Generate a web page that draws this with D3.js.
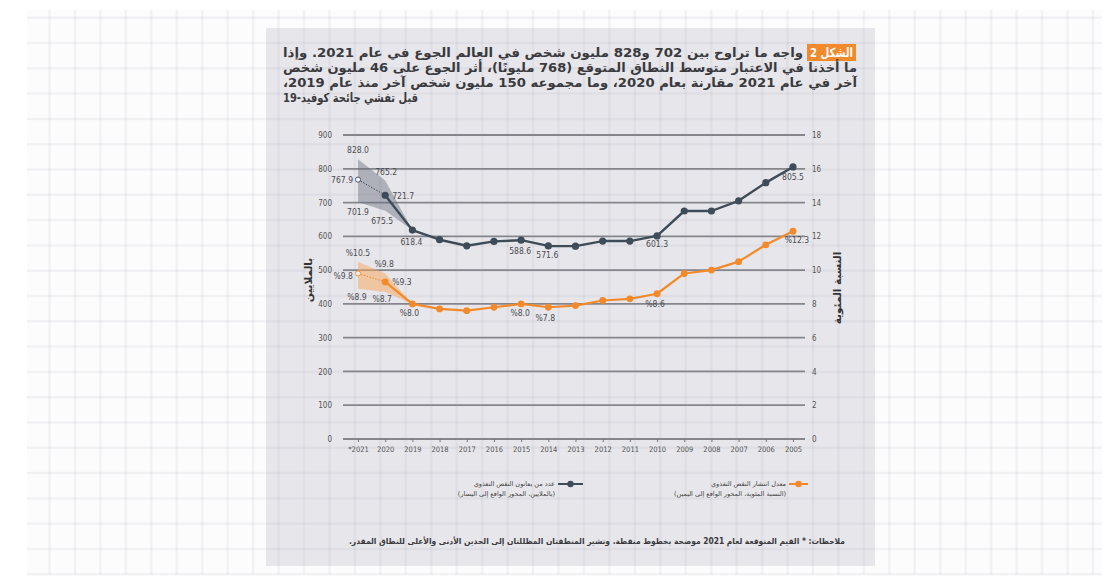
<!DOCTYPE html>
<html><head><meta charset="utf-8">
<script src="https://cdn.jsdelivr.net/npm/d3@7/dist/d3.min.js"></script>
<style>
html,body{margin:0;padding:0;background:#fff;}
svg{display:block;}
</style></head>
<body>
<svg id="c" width="1118" height="580"></svg>
<script>
// ---------------- data ----------------
const years = ["*2021","2020","2019","2018","2017","2016","2015","2014","2013","2012","2011","2010","2009","2008","2007","2006","2005"];
const hungerCount = [767.9,721.7,618.4,590,572,585,588.6,571.6,571,586,586,601.3,675,675,705,759,805.5];
const hungerLow  = [701.9,675.5,618.4];
const hungerHigh = [828.0,765.2,618.4];
const prevalence = [9.8,9.3,8.0,7.7,7.6,7.8,8.0,7.8,7.9,8.2,8.3,8.6,9.8,10.0,10.5,11.5,12.3];
const prevLow  = [8.9,8.7,8.0];
const prevHigh = [10.5,9.8,8.0];
const leftTicks  = [0,100,200,300,400,500,600,700,800,900];
const rightTicks = [0,2,4,6,8,10,12,14,16,18];

const titleBadge = "الشكل 2";
const titleLines = [
  "واجه ما تراوح بين 702 و828 مليون شخص في العالم الجوع في عام 2021. وإذا",
  "ما أخذنا في الاعتبار متوسط النطاق المتوقع (768 مليونًا)، أثر الجوع على 46 مليون شخص",
  "آخر في عام 2021 مقارنة بعام 2020، وما مجموعه 150 مليون شخص آخر منذ عام 2019،",
  "قبل تفشي جائحة كوفيد-19"
];
const leftTitle = "بالملايين";
const rightTitle = "النسبة المئوية";
const legendCount = ["عدد من يعانون النقص التغذوي","(بالملايين، المحور الواقع إلى اليسار)"];
const legendPrev = ["معدل انتشار النقص التغذوي","(النسبة المئوية، المحور الواقع إلى اليمين)"];
const noteText = "ملاحظات: * القيم المتوقعة لعام 2021 موضحة بخطوط منقطة. وتشير المنطقتان المظللتان إلى الحدين الأدنى والأعلى للنطاق المقدر.";

// label layout (index, value, text, dx, dy, anchor)
const countLabels = [
  [0,828.0,"828.0",0,-9,"middle"],
  [1,765.2,"765.2",1,-8.5,"middle"],
  [0,767.9,"767.9",-5,0,"end"],
  [1,721.7,"721.7",7,1,"start"],
  [0,701.9,"701.9",0,10,"middle"],
  [1,675.5,"675.5",-3,10,"middle"],
  [2,618.4,"618.4",-1,12,"middle"],
  [6,588.6,"588.6",-1,11,"middle"],
  [7,571.6,"571.6",-1,9.5,"middle"],
  [11,601.3,"601.3",0,8.5,"middle"],
  [16,805.5,"805.5",0,10,"middle"]
];
const prevLabels = [
  [0,10.5,"%10.5",0,-9,"middle"],
  [1,9.8,"%9.8",-1,-9.5,"middle"],
  [0,9.8,"%9.8",-5,3,"end"],
  [1,9.3,"%9.3",7,0,"start"],
  [0,8.9,"%8.9",-1,8,"middle"],
  [1,8.7,"%8.7",-3,7,"middle"],
  [2,8.0,"%8.0",-3,9,"middle"],
  [6,8.0,"%8.0",-1,9,"middle"],
  [7,7.8,"%7.8",-3,10.5,"middle"],
  [11,8.6,"%8.6",-2,10,"middle"],
  [16,12.3,"%12.3",4,9,"middle"]
];

// ---------------- drawing ----------------
const svg = d3.select("#c");
const DARK = "#3e4b58", ORANGE = "#f28a2b";
const AR = "'DejaVu Sans', sans-serif";
const NUM = "'Liberation Sans Narrow','DejaVu Sans Condensed','Liberation Sans',sans-serif";

// page background grid
svg.append("rect").attr("x",27).attr("y",10).attr("width",1075).attr("height",565).attr("fill","#fcfcfd");
svg.append("rect").attr("x",266).attr("y",28).attr("width",609).attr("height",538).attr("fill","#e7e7eb");
const bg = svg.append("g").attr("stroke","rgba(120,120,140,0.07)").attr("stroke-width",2.5);
d3.range(49.5, 1100, 25.45).forEach(x=>bg.append("line").attr("x1",x).attr("x2",x).attr("y1",10).attr("y2",575));
d3.range(17.7, 576, 25.3).forEach(y=>bg.append("line").attr("x1",27).attr("x2",1102).attr("y1",y).attr("y2",y));

// scales
const x = d3.scalePoint().domain(years).range([358, 793]);
const yL = d3.scaleLinear().domain([0,900]).range([439,135]);
const yR = d3.scaleLinear().domain([0,18]).range([439,135]);
const plotX0 = 343, plotX1 = 805;

// gridlines
svg.append("g").selectAll("line").data(leftTicks).join("line")
  .attr("x1",plotX0).attr("x2",plotX1).attr("y1",d=>yL(d)).attr("y2",d=>yL(d))
  .attr("stroke","#85868c").attr("stroke-width",1.8);

// left axis
const gl = svg.append("g").attr("transform",`translate(${plotX0-11},0)`)
  .call(d3.axisLeft(yL).tickValues(leftTicks).tickSize(0).tickPadding(0));
gl.select(".domain").remove();
gl.selectAll("text").attr("font-family",NUM).attr("font-size",8).attr("fill","#555");
// right axis
const gr = svg.append("g").attr("transform",`translate(${plotX1+7},0)`)
  .call(d3.axisRight(yR).tickValues(rightTicks).tickSize(0).tickPadding(0));
gr.select(".domain").remove();
gr.selectAll("text").attr("font-family",NUM).attr("font-size",8).attr("fill","#555");
// x axis
const gx = svg.append("g").attr("transform",`translate(0,${yL(0)})`)
  .call(d3.axisBottom(x).tickSize(3).tickPadding(5));
gx.select(".domain").remove();
gx.selectAll(".tick line").attr("stroke","#777").attr("stroke-width",1);
gx.selectAll("text").attr("font-family",NUM).attr("font-size",7.5).attr("fill","#555");

// bands
const bandYears = years.slice(0,3);
const areaL = d3.area().x((d,i)=>x(bandYears[i])).y0((d,i)=>yL(hungerLow[i])).y1((d,i)=>yL(hungerHigh[i]));
svg.append("path").datum(hungerLow).attr("d",areaL).attr("fill","rgba(105,110,125,0.45)");
const areaR = d3.area().x((d,i)=>x(bandYears[i])).y0((d,i)=>yR(prevLow[i])).y1((d,i)=>yR(prevHigh[i]));
svg.append("path").datum(prevLow).attr("d",areaR).attr("fill","rgba(250,165,90,0.5)");

// lines
const lineL = d3.line().x((d,i)=>x(years[i])).y(d=>yL(d));
const lineR = d3.line().x((d,i)=>x(years[i])).y(d=>yR(d));
svg.append("path").attr("d",lineL(hungerCount.slice(0,2))).attr("fill","none").attr("stroke",DARK).attr("stroke-width",1).attr("stroke-dasharray","1.5,1.5");
svg.append("path").attr("d",lineR(prevalence.slice(0,2))).attr("fill","none").attr("stroke",ORANGE).attr("stroke-width",1).attr("stroke-dasharray","1.5,1.5");
const lineL2 = d3.line().x((d,i)=>x(years[i+1])).y(d=>yL(d));
const lineR2 = d3.line().x((d,i)=>x(years[i+1])).y(d=>yR(d));
svg.append("path").attr("d",lineL2(hungerCount.slice(1))).attr("fill","none").attr("stroke",DARK).attr("stroke-width",2.4).attr("stroke-linejoin","round");
svg.append("path").attr("d",lineR2(prevalence.slice(1))).attr("fill","none").attr("stroke",ORANGE).attr("stroke-width",2.2).attr("stroke-linejoin","round");

// markers
svg.append("g").selectAll("circle").data(hungerCount).join("circle")
  .attr("cx",(d,i)=>x(years[i])).attr("cy",d=>yL(d))
  .attr("r",(d,i)=>i===0?2.6:3.6)
  .attr("fill",(d,i)=>i===0?"#f4f4f6":DARK).attr("stroke",DARK).attr("stroke-width",(d,i)=>i===0?0.9:0);
svg.append("g").selectAll("circle").data(prevalence).join("circle")
  .attr("cx",(d,i)=>x(years[i])).attr("cy",d=>yR(d))
  .attr("r",(d,i)=>i===0?2.6:3.4)
  .attr("fill",(d,i)=>i===0?"#f7efe6":ORANGE).attr("stroke",ORANGE).attr("stroke-width",(d,i)=>i===0?0.9:0);

// value labels
function drawLabels(list, sc){
  svg.append("g").selectAll("text").data(list).join("text")
    .attr("x",d=>x(years[d[0]])+d[3]).attr("y",d=>sc(d[1])+d[4])
    .attr("dy","0.35em").attr("text-anchor",d=>d[5]).attr("direction","ltr")
    .attr("font-family",NUM).attr("font-size",8.5).attr("fill","#4a4a4f")
    .text(d=>d[2]);
}
drawLabels(countLabels, yL);
drawLabels(prevLabels, yR);

// axis titles
svg.append("text").attr("transform","translate(308,280) rotate(-90)")
  .attr("text-anchor","middle").attr("dy","0.35em").attr("font-family",AR).attr("font-weight","bold")
  .attr("font-size",10.5).attr("fill","#333").attr("direction","rtl").text(leftTitle);
svg.append("text").attr("transform","translate(837,288) rotate(-90)")
  .attr("text-anchor","middle").attr("dy","0.35em").attr("font-family",AR).attr("font-weight","bold")
  .attr("font-size",10.5).attr("fill","#333").attr("direction","rtl").text(rightTitle);

// title
const tg = svg.append("g").attr("font-family",AR).attr("font-weight","bold").attr("font-size",12.5).attr("fill","#3a3a3e");
tg.append("rect").attr("x",807).attr("y",44).attr("width",49).attr("height",17).attr("fill",ORANGE);
tg.append("text").attr("x",853).attr("y",57).attr("text-anchor","start").attr("fill","#fff").attr("direction","rtl")
  .attr("textLength",43).attr("lengthAdjust","spacingAndGlyphs").text(titleBadge);
const tlines = [
  {t:titleLines[0], x1:283, x2:803, y:57},
  {t:titleLines[1], x1:283, x2:857, y:72},
  {t:titleLines[2], x1:283, x2:857, y:87},
];
tlines.forEach(l=>{
  tg.append("text").attr("x",l.x2).attr("y",l.y).attr("direction","rtl").attr("text-anchor","start")
    .attr("textLength",l.x2-l.x1).attr("lengthAdjust","spacingAndGlyphs").text(l.t);
});
tg.append("text").attr("x",283).attr("y",102).attr("direction","rtl").attr("text-anchor","end")
  .attr("textLength",135).attr("lengthAdjust","spacingAndGlyphs").text(titleLines[3]);

// legend
const lg = svg.append("g").attr("font-family",AR).attr("font-size",6.5).attr("fill","#444");
lg.append("line").attr("x1",558).attr("x2",583).attr("y1",484).attr("y2",484).attr("stroke",DARK).attr("stroke-width",2);
lg.append("circle").attr("cx",570.5).attr("cy",484).attr("r",3.2).attr("fill",DARK);
lg.append("text").attr("x",555).attr("y",486).attr("direction","rtl").attr("text-anchor","start").text(legendCount[0]);
lg.append("text").attr("x",555).attr("y",496).attr("direction","rtl").attr("text-anchor","start").text(legendCount[1]);
lg.append("line").attr("x1",789).attr("x2",808).attr("y1",484).attr("y2",484).attr("stroke",ORANGE).attr("stroke-width",2);
lg.append("circle").attr("cx",798.5).attr("cy",484).attr("r",3.2).attr("fill",ORANGE);
lg.append("text").attr("x",786).attr("y",486).attr("direction","rtl").attr("text-anchor","start").text(legendPrev[0]);
lg.append("text").attr("x",786).attr("y",496).attr("direction","rtl").attr("text-anchor","start").text(legendPrev[1]);

// note
svg.append("text").attr("x",845).attr("y",544).attr("direction","rtl").attr("text-anchor","start")
  .attr("font-family",AR).attr("font-size",8.2).attr("font-weight","bold").attr("fill","#3a3a3e")
  .attr("textLength",496).attr("lengthAdjust","spacingAndGlyphs").text(noteText);
</script>
</body></html>
